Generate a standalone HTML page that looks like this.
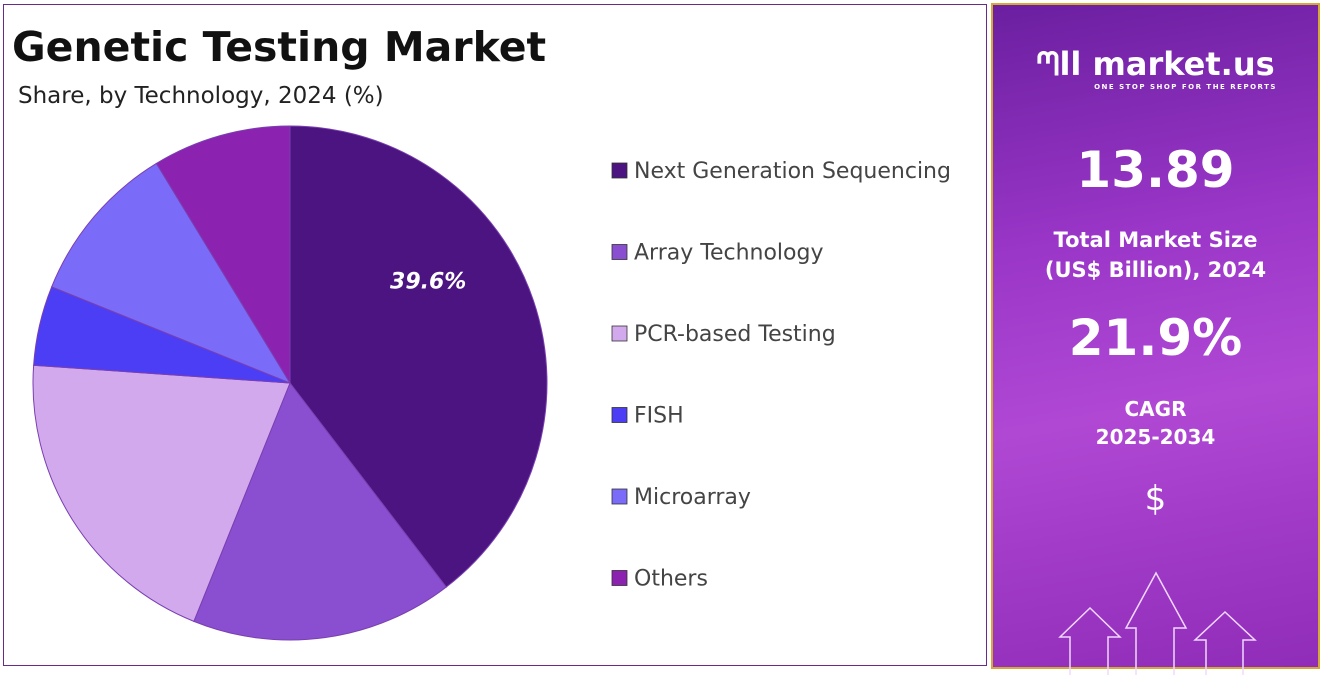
<!DOCTYPE html>
<html><head><meta charset="utf-8"><style>
body{margin:0;width:1321px;height:672px;background:#fff;font-family:"DejaVu Sans","Liberation Sans",sans-serif;position:relative;overflow:hidden}
#left{position:absolute;left:3px;top:4px;width:984px;height:662px;border:1.5px solid #6a2a8a;box-sizing:border-box}
#right{position:absolute;left:991px;top:3px;width:329px;height:666px;border:2px solid #d4a935;box-sizing:border-box;background:linear-gradient(170deg,#6b1fa0 0%,#9a36c8 35%,#b048d4 60%,#8f2cb8 100%);color:#fff;text-align:center;font-weight:bold}
.t{position:absolute;left:0;width:100%}
</style></head><body>
<div id="left"></div>
<div style="position:absolute;left:12px;top:23px;font-size:41px;font-weight:bold;color:#111">Genetic Testing Market</div>
<div style="position:absolute;left:18px;top:83px;font-size:23px;color:#222">Share, by Technology, 2024 (%)</div>
<svg id="pie" width="990" height="672" style="position:absolute;left:0;top:0"></svg>
<div id="right">
<div class="t" style="top:40px;font-size:32px">ᘉll market.us</div>
<div class="t" style="top:78px;font-size:7px;letter-spacing:1.5px;padding-left:60px;box-sizing:border-box">ONE STOP SHOP FOR THE REPORTS</div>
<div class="t" style="top:136px;font-size:50px">13.89</div>
<div class="t" style="top:220px;font-size:21px;line-height:30px">Total Market Size<br>(US$ Billion), 2024</div>
<div class="t" style="top:304px;font-size:50px">21.9%</div>
<div class="t" style="top:390px;font-size:20px;line-height:28px">CAGR<br>2025-2034</div>
<div class="t" style="top:474px;font-size:34px;font-weight:normal">$</div>
<svg style="position:absolute;left:0;top:560px" width="325" height="110" fill="none" stroke="#f0d8ff" stroke-width="1.5">
<path d="M77 110V72H67L97 43L127 72H115V110"/><path d="M143 110V63H133L163 8L193 63H181V110"/><path d="M213 110V75H202L232 47L262 75H250V110"/>
</svg>
</div>
<script>
const categories=["Next Generation Sequencing","Array Technology","PCR-based Testing","FISH","Microarray","Others"];
const shares=[39.6,16.5,20.0,5.0,10.2,8.7];
const colors=["#4b1480","#8a4fd0","#d3a9ee","#4b3ef5","#7a6cf8","#8c22b0"];
const svg=document.getElementById('pie');const NS="http://www.w3.org/2000/svg";
const cx=290,cy=383,r=257;const total=shares.reduce((a,b)=>a+b,0);
function pt(f,rr){rr=rr||r;const a=f*2*Math.PI;return [cx+rr*Math.sin(a),cy-rr*Math.cos(a)];}
let acc=0;
shares.forEach((v,i)=>{const s=pt(acc/total);acc+=v;const e=pt(acc/total);const large=v/total>0.5?1:0;
const p=document.createElementNS(NS,'path');
p.setAttribute('d',`M${cx},${cy}L${s[0]},${s[1]}A${r},${r} 0 ${large} 1 ${e[0]},${e[1]}Z`);
p.setAttribute('fill',colors[i]);p.setAttribute('stroke','#7a3fb0');p.setAttribute('stroke-width','1');


svg.appendChild(p);
const y=171+i*81.5;
const sq=document.createElementNS(NS,'rect');sq.setAttribute('x',612);sq.setAttribute('y',y-8);sq.setAttribute('width',15);sq.setAttribute('height',15);sq.setAttribute('fill',colors[i]);sq.setAttribute('stroke','#333');sq.setAttribute('stroke-width','0.8');


svg.appendChild(sq);
const t=document.createElementNS(NS,'text');t.setAttribute('x',634);t.setAttribute('y',y+7);t.setAttribute('font-size','22');t.setAttribute('fill','#444');t.textContent=categories[i];


svg.appendChild(t);
});
const lab=document.createElementNS(NS,'text');const lp=pt(shares[0]/total*0.375,172);
lab.setAttribute('x',lp[0]);lab.setAttribute('y',lp[1]+8);lab.setAttribute('text-anchor','middle');lab.setAttribute('font-size','22');lab.setAttribute('font-weight','bold');lab.setAttribute('font-style','italic');lab.setAttribute('fill','#fff');lab.textContent=shares[0]+'%';


svg.appendChild(lab);
</script>
</body></html>
